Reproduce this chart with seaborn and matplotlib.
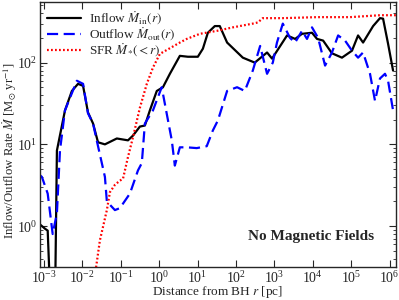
import matplotlib
matplotlib.use("Agg")
import matplotlib.pyplot as plt
import numpy as np
import pandas as pd
import seaborn as sns

# Inflow rate (black, solid)
r_in = [7.9e-4, 1.07e-3, 1.26e-3, 1.51e-3, 1.95e-3, 2.19e-3, 3.55e-3, 5.37e-3, 7.76e-3,
        1.05e-2, 1.41e-2, 1.91e-2, 2.57e-2, 3.89e-2, 7.94e-2, 0.155, 0.209, 0.316, 0.427,
        0.575, 0.871, 1.26, 1.91, 3.47, 5.62, 10.2, 13.8, 18.6, 28.2, 38.0, 58.9, 151, 309,
        646, 871, 2140, 3470, 5250, 9550, 1.29e4, 1.86e4, 3.16e4, 5.75e4, 1.05e5, 1.51e5,
        2.04e5, 3.72e5, 5.62e5, 6.76e5, 9.12e5, 1.23e6]
m_in = [1.05, 0.93, 0.88, 0.1, 0.1, 8.4, 26, 45, 55, 52, 24.6, 18, 10.6, 10, 11.8, 11.2,
        12.8, 16.5, 17, 26, 45, 50, 73, 121, 118, 118, 148, 232, 280, 280, 176, 115, 100,
        133, 112, 215, 195, 225, 232, 195, 186, 130, 115, 140, 215, 176, 280, 350, 345, 170, 80]

# Outflow rate (blue, dashed)
r_out = [7.9e-4, 8.9e-4, 1.26e-3, 1.70e-3, 2.19e-3, 2.63e-3, 3.55e-3, 7.24e-3, 1.05e-2,
         1.41e-2, 1.91e-2, 2.40e-2, 3.89e-2, 4.37e-2, 7.08e-2, 9.55e-2, 0.174, 0.282, 0.355,
         0.427, 0.692, 1.17, 2.14, 2.57, 3.47, 5.25, 9.55, 17.4, 25.1, 33.9, 58.9, 107, 170,
         275, 427, 646, 912, 1170, 1660, 2570, 3470, 5250, 7080, 9550, 1.38e4, 2.09e4, 3.16e4,
         4.57e4, 6.92e4, 1.05e5, 1.51e5, 2.04e5, 3.09e5, 4.17e5, 5.62e5, 7.59e5, 9.12e5, 1.23e6]
m_out = [4.2, 4.0, 2.5, 0.8, 1.44, 8.4, 26, 60, 55, 24, 18, 11, 4, 2, 1.57, 1.66, 2.5, 4.8,
         5.9, 18, 26, 50, 11.2, 5.5, 9.2, 9.2, 9, 9.5, 14.8, 19.6, 45, 50, 45, 80, 160, 73,
         100, 176, 300, 200, 176, 245, 195, 270, 200, 92, 133, 215, 186, 140, 115, 133, 73,
         34, 64, 73, 60, 26]

# Enclosed star formation rate (red, dotted)
r_sfr = [2.14e-2, 2.88e-2, 4.37e-2, 5.25e-2, 7.08e-2, 9.55e-2, 0.115, 0.155, 0.209, 0.316,
         0.479, 0.692, 1.05, 1.91, 3.47, 5.25, 11.5, 32.4, 83.2, 275, 372, 501, 1660, 1.29e4,
         9.33e4, 5.62e5, 1.55e6]
m_sfr = [0.25, 0.67, 1.57, 2.6, 3.2, 3.6, 3.8, 7, 12.2, 28, 55, 87, 128, 150, 176, 195, 225,
         245, 270, 300, 310, 350, 350, 360, 360, 380, 380]

x_ticks = [1e-3, 1e-2, 1e-1, 1e0, 1e1, 1e2, 1e3, 1e4, 1e5, 1e6]

sns.set_style("ticks")
plt.rcParams["font.family"] = ["Liberation Serif", "DejaVu Serif"]
plt.rcParams["mathtext.fontset"] = "stix"
plt.rcParams["xtick.direction"] = "in"
plt.rcParams["ytick.direction"] = "in"

fig = plt.figure(figsize=(3.99, 3.0), dpi=100)
ax = fig.add_axes([0.1, 0.11, 0.892, 0.883])

sns.lineplot(x=r_in, y=m_in, ax=ax, color="black", lw=1.6,
             label=r"Inflow $\dot{M}_{\rm in}(r)$", sort=False)
sns.lineplot(x=r_out, y=m_out, ax=ax, color="#0000ff", lw=1.6,
             label=r"Outflow $\dot{M}_{\rm out}(r)$", sort=False)
ax.lines[-1].set_linestyle((0, (5, 2.5)))
sns.lineplot(x=r_sfr, y=m_sfr, ax=ax, color="#ff0000", lw=1.6,
             label=r"SFR $\dot{M}_{*}(<r)$", sort=False)
ax.lines[-1].set_linestyle((0, (0.8, 1.0)))

ax.set_xscale("log")
ax.set_yscale("log")
ax.set_xlim(7.9e-4, 1.45e6)
ax.set_ylim(0.316, 550)
ax.set_xticks(x_ticks)

ax.tick_params(which="both", top=True, right=True, labelsize=10, pad=2)
ax.tick_params(which="major", length=5)
ax.tick_params(which="minor", length=2.5)

ax.set_xlabel(r"Distance from BH $r$ [pc]", fontsize=9.5)
ax.set_ylabel(r"Inflow/Outflow Rate $\dot{M}$ [M$_{\odot}$ yr$^{-1}$]", fontsize=9.2)
ax.xaxis.set_label_coords(0.5, -0.066)
ax.yaxis.set_label_coords(-0.06, 0.44)

ax.legend(loc="upper left", frameon=False, fontsize=9.5, handlelength=2.6,
          borderaxespad=0.15, labelspacing=-0.12, handletextpad=0.6)
ax.text(0.94, 0.115, "No Magnetic Fields", transform=ax.transAxes, ha="right", va="center",
        fontsize=11, fontweight="bold")

for s in ax.spines.values():
    s.set_linewidth(1.0)

fig.savefig("out.png", dpi=100)
